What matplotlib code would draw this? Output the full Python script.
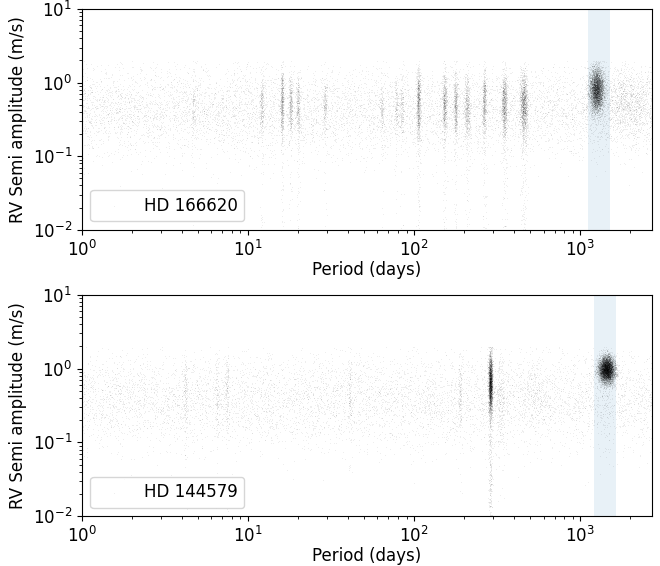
import numpy as np
import matplotlib
matplotlib.use("Agg")
import matplotlib.pyplot as plt

# ---------------- data ----------------
xlim = (1.0, 2700.0)
ylim = (1e-2, 1e1)

# Panel 1: HD 166620
top_label = "HD 166620"
top_band = (1110.0, 1500.0)
top_bg_n = 8000
top_bg_logK = (-0.38, 0.3)
top_streak_P = [4.7, 12.1, 16.0, 18.0, 20.0, 29.0, 64.0, 78.0, 84.0, 106.0, 152.0, 177.0, 208.0, 264.0, 348.0, 456.0]
top_streak_logK = [-0.35, -0.3, -0.25, -0.3, -0.3, -0.3, -0.35, -0.35, -0.35, -0.3, -0.3, -0.3, -0.35, -0.25, -0.3, -0.3]
top_streak_sig = [0.18, 0.2, 0.22, 0.2, 0.2, 0.18, 0.18, 0.18, 0.18, 0.24, 0.22, 0.22, 0.22, 0.22, 0.22, 0.22]
top_streak_w = [0.006, 0.006, 0.005, 0.006, 0.006, 0.006, 0.006, 0.006, 0.006, 0.006, 0.007, 0.006, 0.009, 0.006, 0.008, 0.011]
top_streak_n = [100, 250, 550, 350, 300, 200, 150, 150, 150, 800, 600, 500, 500, 550, 900, 1300]
top_blob = dict(P=1250.0, logK=-0.1, sigP=0.022, sigK=0.15, n=4500)
top_cloud = dict(P=1900.0, logK=-0.25, sigP=0.09, sigK=0.22, n=1000)

# Panel 2: HD 144579
bot_label = "HD 144579"
bot_band = (1210.0, 1640.0)
bot_bg_n = 7000
bot_bg_logK = (-0.42, 0.32)
bot_streak_P = [4.2, 6.5, 7.5, 41.0, 189.0, 287.0, 330.0]
bot_streak_logK = [-0.35, -0.35, -0.35, -0.35, -0.35, -0.2, -0.4]
bot_streak_sig = [0.3, 0.25, 0.25, 0.25, 0.25, 0.2, 0.3]
bot_streak_w = [0.005, 0.006, 0.005, 0.006, 0.006, 0.006, 0.015]
bot_streak_n = [120, 100, 120, 120, 150, 3000, 250]
bot_blob = dict(P=1435.0, logK=-0.01, sigP=0.024, sigK=0.09, n=6500)
bot_cloud = dict(P=540.0, logK=-0.3, sigP=0.05, sigK=0.2, n=200)

rng = np.random.default_rng(7)
KMAX = 0.3  # log10 of the upper edge of the sampled amplitudes


def cloud(P_list, logK_list, sig_list, w_list, n_list, bg_n, bg_logK, blob, extra):
    xs, ys = [], []
    lo, hi = np.log10(xlim[0]), np.log10(xlim[1])
    xs.append(rng.uniform(lo, hi, bg_n))
    ys.append(rng.normal(bg_logK[0], bg_logK[1], bg_n))
    for P, k, s, w, n in zip(P_list, logK_list, sig_list, w_list, n_list):
        xs.append(rng.normal(np.log10(P), w, n))
        yk = rng.normal(k, s, n)
        tail = rng.random(n) < 0.12
        yk[tail] = rng.uniform(-2.0, 0.1, tail.sum())
        ys.append(yk)
    for b in (blob, extra):
        xs.append(rng.normal(np.log10(b["P"]), b["sigP"], b["n"]))
        ys.append(rng.normal(b["logK"], b["sigK"], b["n"]))
    x = np.concatenate(xs)
    y = np.concatenate(ys)
    keep = (y < KMAX) & (y > -2.0)
    return 10 ** x[keep], 10 ** y[keep]


fig = plt.figure(figsize=(6.6, 5.66), dpi=100)
ax1 = fig.add_axes([0.124, 0.594, 0.864, 0.390])
ax2 = fig.add_axes([0.124, 0.088, 0.864, 0.391])

panels = [
    (ax1, top_label, top_band, top_streak_P, top_streak_logK, top_streak_sig, top_streak_w, top_streak_n,
     top_bg_n, top_bg_logK, top_blob, top_cloud),
    (ax2, bot_label, bot_band, bot_streak_P, bot_streak_logK, bot_streak_sig, bot_streak_w, bot_streak_n,
     bot_bg_n, bot_bg_logK, bot_blob, bot_cloud),
]

for ax, label, band, sP, sK, sS, sW, sN, bgn, bgk, blob, extra in panels:
    x, y = cloud(sP, sK, sS, sW, sN, bgn, bgk, blob, extra)
    ax.axvspan(band[0], band[1], color="C0", alpha=0.1, lw=0, zorder=0)
    ax.scatter(x, y, s=0.6, c="k", alpha=0.08, lw=0, label=label, zorder=2, rasterized=True)
    ax.set_xscale("log")
    ax.set_yscale("log")
    ax.set_xlim(*xlim)
    ax.set_ylim(*ylim)
    ax.set_xlabel("Period (days)", fontsize=12, labelpad=1)
    ax.set_ylabel("RV Semi amplitude (m/s)", fontsize=12)
    ax.tick_params(labelsize=12)
    ax.legend(loc="lower left", fontsize=12, handlelength=2.0)

fig.savefig("out.png", dpi=100)
